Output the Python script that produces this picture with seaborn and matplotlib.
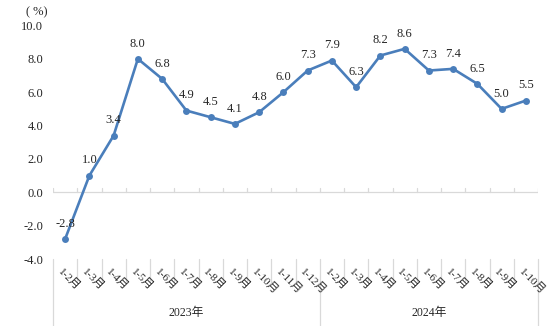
import matplotlib
matplotlib.use("Agg")
import matplotlib.pyplot as plt
import seaborn as sns
import pandas as pd

months_2023 = ["1-2月", "1-3月", "1-4月", "1-5月", "1-6月", "1-7月", "1-8月", "1-9月", "1-10月", "1-11月", "1-12月"]
months_2024 = ["1-2月", "1-3月", "1-4月", "1-5月", "1-6月", "1-7月", "1-8月", "1-9月", "1-10月"]
values_2023 = [-2.8, 1.0, 3.4, 8.0, 6.8, 4.9, 4.5, 4.1, 4.8, 6.0, 7.3]
values_2024 = [7.9, 6.3, 8.2, 8.6, 7.3, 7.4, 6.5, 5.0, 5.5]
years = ["2023年", "2024年"]
y_ticks = [-4.0, -2.0, 0.0, 2.0, 4.0, 6.0, 8.0, 10.0]

sns.set_theme(style="white")
plt.rcParams['font.family'] = ['Liberation Serif', 'Noto Sans CJK SC']

labels = months_2023 + months_2024
values = values_2023 + values_2024
df = pd.DataFrame({"pos": list(range(len(values))), "value": values})

fig = plt.figure(figsize=(5.54, 3.26), dpi=100)
W, H = 554, 326
ax = fig.add_axes([53 / W, (H - 259) / H, (538 - 53) / W, (259 - 25.5) / H])

color = "#4a7ebb"
sns.lineplot(data=df, x="pos", y="value", ax=ax, color=color, linewidth=1.9,
             marker="o", markersize=5, markeredgewidth=0, markeredgecolor=color)

n = len(values)
ax.set_xlim(-0.5, n - 0.5)
ax.set_ylim(-4, 10)
for s in ax.spines.values():
    s.set_visible(False)
ax.set_xlabel("")
ax.set_ylabel("")
ax.set_xticks([])
ax.set_yticks(y_ticks)
ax.set_yticklabels([f"{t:.1f}" for t in y_ticks], fontsize=9)
ax.tick_params(axis="y", length=0, pad=7)

# zero axis line with small upward ticks
grey = "#d9d9d9"
ax.axhline(0, color=grey, linewidth=0.9, zorder=1)
xt = ax.get_xaxis_transform()
ax_h_px = 259 - 25.5
for b in [i - 0.5 for i in range(n + 1)]:
    ax.plot([b, b], [0, 0.25], color=grey, linewidth=0.9, zorder=1)

# category separators below the plot
short = -(282 - 259) / ax_h_px
long_ = -(326 - 259) / ax_h_px
split = len(values_2023)
for i in range(n + 1):
    b = i - 0.5
    y1 = long_ if i in (0, split, n) else short
    ax.plot([b, b], [0, y1], color=grey, linewidth=0.9, transform=xt, clip_on=False)

# month labels
for i, lab in enumerate(labels):
    ax.text(i - 0.22, -(270 - 259) / ax_h_px, lab, transform=xt, rotation=-45,
            rotation_mode="anchor", ha="left", va="center", fontsize=8)

# year labels
ax.text((split - 1) / 2, -(313 - 259) / ax_h_px, years[0], transform=xt,
        ha="center", va="center", fontsize=8.5)
ax.text((split + n - 1) / 2, -(313 - 259) / ax_h_px, years[1], transform=xt,
        ha="center", va="center", fontsize=8.5)

# data labels
for i, v in enumerate(values):
    ax.annotate(f"{v:.1f}", (i, v), xytext=(0, 11), textcoords="offset points",
                ha="center", va="center", fontsize=9)

fig.text(37 / W, 1 - 12 / H, "( %)", ha="center", va="center", fontsize=9)

fig.savefig("out.png", dpi=100)
